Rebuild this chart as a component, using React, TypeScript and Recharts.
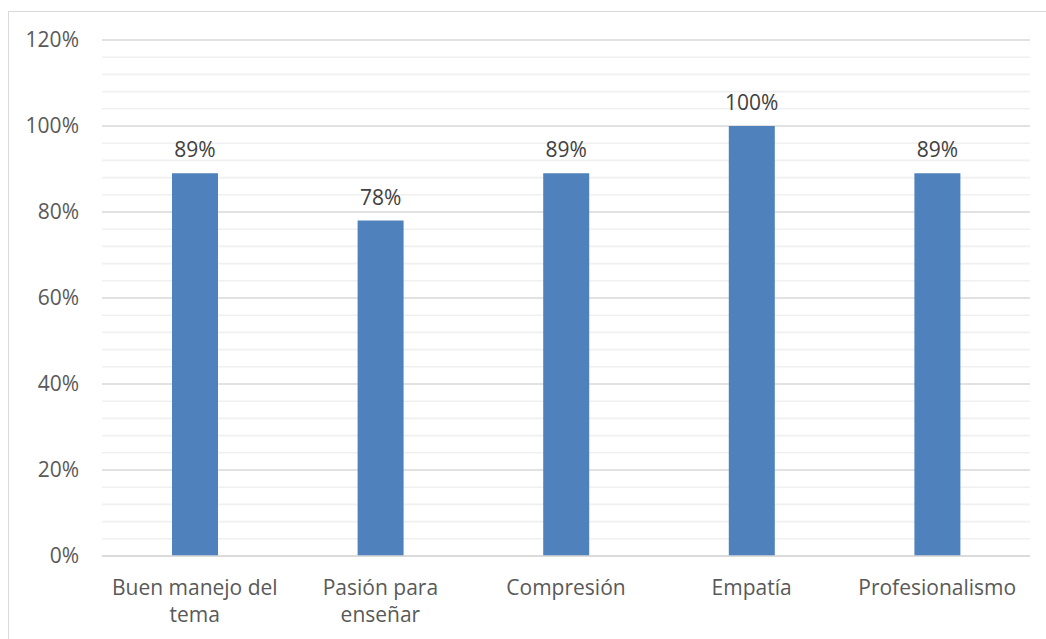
import React from 'react';
import { BarChart, Bar, XAxis, YAxis, CartesianGrid, LabelList } from 'recharts';

const categories = ['Buen manejo del tema', 'Pasión para enseñar', 'Compresión', 'Empatía', 'Profesionalismo'];
const values = [0.89, 0.78, 0.89, 1.0, 0.89];
const yTicks = [0, 0.2, 0.4, 0.6, 0.8, 1.0, 1.2];
const minorTicks = [0.04, 0.08, 0.12, 0.16, 0.24, 0.28, 0.32, 0.36, 0.44, 0.48, 0.52, 0.56, 0.64, 0.68, 0.72, 0.76, 0.84, 0.88, 0.92, 0.96, 1.04, 1.08, 1.12, 1.16];

const data = categories.map((c, i) => ({ name: c, value: values[i] }));

const FONT = '"Open Sans", sans-serif';
const FS = 21;
const pct = (v: number) => `${Math.round(v * 100)}%`;

let ctx: CanvasRenderingContext2D | null = null;
const measure = (s: string) => {
  if (!ctx) {
    ctx = document.createElement('canvas').getContext('2d');
  }
  if (!ctx) return s.length * FS * 0.5;
  ctx.font = `${FS}px ${FONT}`;
  return ctx.measureText(s).width;
};

const wrap = (s: string, maxW: number) => {
  const words = s.split(' ');
  const lines: string[] = [];
  let cur = '';
  words.forEach((w) => {
    const next = cur ? cur + ' ' + w : w;
    if (cur && measure(next) > maxW) {
      lines.push(cur);
      cur = w;
    } else {
      cur = next;
    }
  });
  if (cur) lines.push(cur);
  return lines;
};

const XTick = (props: any) => {
  const { x, y, payload } = props;
  const lines = wrap(String(payload.value), 175);
  return (
    <text x={x} y={y} textAnchor="middle" fill="#595959" fontSize={FS} fontFamily={FONT}>
      {lines.map((l, i) => (
        <tspan key={i} x={x} dy={i === 0 ? '0.71em' : 27}>
          {l}
        </tspan>
      ))}
    </text>
  );
};

export default function App() {
  return (
    <div style={{ position: 'absolute', left: 0, top: 0, width: 1046, height: 639, background: '#fff', overflow: 'hidden' }}>
      <div style={{ position: 'absolute', left: 8, top: 11, width: 1100, height: 700, border: '1px solid #d9d9d9', boxSizing: 'border-box' }} />
      <div style={{ position: 'absolute', left: 0, top: 0 }}>
        <BarChart width={1046} height={639} data={data} margin={{ top: 40, right: 16, bottom: 0, left: 20 }} barSize={46}>
          <CartesianGrid vertical={false} stroke="#f0f0f0" strokeWidth={1.6} horizontalValues={minorTicks} />
          <CartesianGrid vertical={false} stroke="#d9d9d9" strokeWidth={1.6} />
          <XAxis
            dataKey="name"
            height={83}
            axisLine={{ stroke: '#d9d9d9', strokeWidth: 1.6 }}
            tickLine={false}
            tickSize={0}
            tick={<XTick />}
            tickMargin={24}
            interval={0}
          />
          <YAxis
            width={82}
            domain={[0, 1.2]}
            ticks={yTicks}
            interval={0}
            tickFormatter={pct}
            axisLine={false}
            tickLine={false}
            tickSize={0}
            tickMargin={23}
            tick={{ fill: '#595959', fontSize: FS, fontFamily: FONT }}
          />
          <Bar dataKey="value" fill="#4f81bd" isAnimationActive={false}>
            <LabelList dataKey="value" position="top" offset={16} formatter={pct} fill="#404040" fontSize={FS} fontFamily={FONT} />
          </Bar>
        </BarChart>
      </div>
    </div>
  );
}
